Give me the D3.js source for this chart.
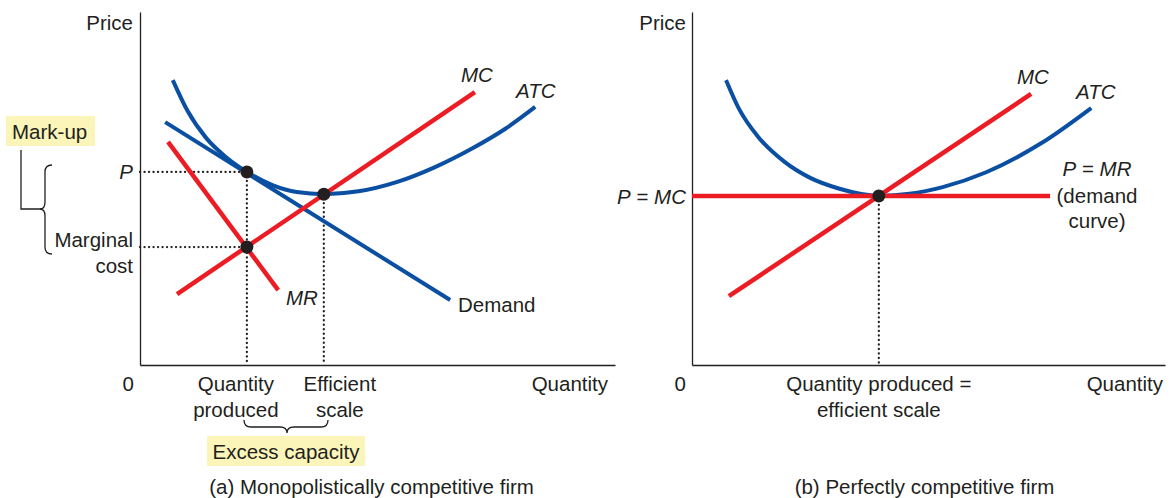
<!DOCTYPE html>
<html>
<head>
<meta charset="utf-8">
<script src="https://cdn.jsdelivr.net/npm/d3@7"></script>
<style>
  body { margin: 0; background: #fff; }
  svg text { font-family: "Liberation Sans", Arial, sans-serif; font-size: 20.5px; fill: #231f20; }
  .it { font-style: italic; }
</style>
</head>
<body>
<svg width="1175" height="498"></svg>
<script>
// panel (a): monopolistically competitive firm  [quantity, price]
var demandA = [[5.3, 68.8], [65.3, 18.4]];
var mrA = [[5.9, 63.2], [29.1, 21.2]];
var mcA = [[7.8, 20.1], [70.5, 77.3]];
var atcA = [[6.9, 80.7], [10, 72.0], [14, 64.2], [18, 59.0], [22.5, 54.7], [28, 50.9], [33, 49.0],
            [38.7, 48.4], [46, 49.2], [54, 51.8], [62, 56.0], [70, 61.4], [77, 67.0], [83.2, 73.1]];
var dotsA = [[22.5, 54.7], [22.5, 33.4], [38.7, 48.4]];

// panel (b): perfectly competitive firm
var atcB = [[7.2, 80.7], [10, 72.4], [14, 64.6], [19.5, 57.6], [25, 53.0], [31, 50.0], [39.5, 47.9],
            [46, 48.5], [53, 50.4], [62.2, 54.6], [73.8, 62.8], [84.4, 72.8]];
var mcB = [[7.8, 19.5], [71.7, 76.8]];
var priceB = [[0, 47.9], [75.7, 47.9]];
var dotsB = [[39.5, 47.9]];

var svg = d3.select('svg');
var blue = '#0b4fa3', red = '#ec1c24', ink = '#231f20';

var xA = d3.scaleLinear().domain([0, 100]).range([140, 615]);
var yA = d3.scaleLinear().domain([0, 100]).range([365, 12]);
var xB = d3.scaleLinear().domain([0, 100]).range([692, 1165]);
var yB = d3.scaleLinear().domain([0, 100]).range([365, 12]);

function drawAxes(x, y) {
    var g = svg.append('g');
    g.append('g').attr('transform', 'translate(0,' + y(0) + ')')
        .call(d3.axisBottom(x).tickValues([]).tickSizeOuter(0));
    g.append('g').attr('transform', 'translate(' + x(0) + ',0)')
        .call(d3.axisLeft(y).tickValues([]).tickSizeOuter(0));
    g.selectAll('.domain').attr('stroke', ink).attr('stroke-width', 1.3);
}

function curve(x, y, data, color, w, smooth) {
    var line = d3.line()
        .x(function(d){ return x(d[0]) })
        .y(function(d){ return y(d[1]) });
    if (smooth) line.curve(d3.curveMonotoneX);
    svg.append('path')
        .attr('d', line(data))
        .attr('fill', 'none')
        .attr('stroke', color)
        .attr('stroke-width', w);
}

function dotted(x1, y1, x2, y2) {
    svg.append('line')
        .attr('x1', x1).attr('y1', y1).attr('x2', x2).attr('y2', y2)
        .attr('stroke', ink)
        .attr('stroke-width', 2.3)
        .attr('stroke-linecap', 'round')
        .attr('stroke-dasharray', '0.1,4.4');
}

function label(x, y, txt, anchor, cls) {
    return svg.append('text')
        .attr('x', x).attr('y', y)
        .attr('text-anchor', anchor || 'start')
        .attr('class', cls || null)
        .text(txt);
}

// ---------- panel (a)
dotsA.slice(0, 2).forEach(function(d){
    dotted(xA(0), yA(d[1]), xA(d[0]), yA(d[1]));
});
dotsA.forEach(function(d, i){
    if (i != 1) dotted(xA(d[0]), yA(d[1]), xA(d[0]), yA(0));
});
drawAxes(xA, yA);

curve(xA, yA, demandA, blue, 4, false);
curve(xA, yA, atcA, blue, 4, true);
curve(xA, yA, mrA, red, 4.5, false);
curve(xA, yA, mcA, red, 4.5, false);

svg.selectAll('circle.a')
    .data(dotsA)
    .enter()
    .append('circle')
    .attr('cx', function(d){ return xA(d[0]) })
    .attr('cy', function(d){ return yA(d[1]) })
    .attr('r', 6.5)
    .attr('fill', ink);

label(133, 30, 'Price', 'end');
label(133, 179, 'P', 'end', 'it');
label(133, 247, 'Marginal', 'end');
label(133, 273, 'cost', 'end');
label(xA(0) - 6, 391, '0', 'end');
label(608, 391, 'Quantity', 'end');
label(461, 82, 'MC', 'start', 'it');
label(516, 98, 'ATC', 'start', 'it');
label(286, 305, 'MR', 'start', 'it');
label(458, 312, 'Demand', 'start');
label(xA(dotsA[0][0]) - 11, 391, 'Quantity', 'middle');
label(xA(dotsA[0][0]) - 11, 417, 'produced', 'middle');
label(xA(dotsA[2][0]) + 16, 391, 'Efficient', 'middle');
label(xA(dotsA[2][0]) + 16, 417, 'scale', 'middle');

// mark-up annotation
svg.append('rect').attr('x', 6).attr('y', 116).attr('width', 89).attr('height', 30).attr('fill', '#fcf5b9');
label(12, 139, 'Mark-up');
svg.append('path')
    .attr('d', 'M21,150 L21,209 L41,209')
    .attr('fill', 'none').attr('stroke', ink).attr('stroke-width', 1.3);
svg.append('path')
    .attr('d', 'M52,165 Q45,165 45,172 L45,202 Q45,209 40,209 Q45,209 45,216 L45,247 Q45,254 52,254')
    .attr('fill', 'none').attr('stroke', ink).attr('stroke-width', 1.3);

// excess capacity annotation
svg.append('path')
    .attr('d', 'M244,420 Q244,427 251,427 L280,427 Q287,427 287,433 Q287,427 294,427 L321,427 Q328,427 328,420')
    .attr('fill', 'none').attr('stroke', ink).attr('stroke-width', 1.3);
svg.append('rect').attr('x', 207).attr('y', 436).attr('width', 158).attr('height', 30).attr('fill', '#fcf5b9');
label(286, 459, 'Excess capacity', 'middle');

label((xA.range()[0] + xA.range()[1]) / 2 - 6, 494, '(a) Monopolistically competitive firm', 'middle');

// ---------- panel (b)
dotsB.forEach(function(d){
    dotted(xB(d[0]), yB(d[1]), xB(d[0]), yB(0));
});
drawAxes(xB, yB);

curve(xB, yB, atcB, blue, 4, true);
curve(xB, yB, mcB, red, 4.5, false);
curve(xB, yB, priceB, red, 4.5, false);

svg.selectAll('circle.b')
    .data(dotsB)
    .enter()
    .append('circle')
    .attr('cx', function(d){ return xB(d[0]) })
    .attr('cy', function(d){ return yB(d[1]) })
    .attr('r', 6.5)
    .attr('fill', ink);

label(686, 30, 'Price', 'end');
var pmc = label(686, 204, '', 'end');
pmc.append('tspan').attr('class', 'it').text('P');
pmc.append('tspan').text(' = ');
pmc.append('tspan').attr('class', 'it').text('MC');
label(xB(0) - 6, 391, '0', 'end');
label(1163, 391, 'Quantity', 'end');
label(1017, 84, 'MC', 'start', 'it');
label(1076, 99, 'ATC', 'start', 'it');
var pmr = label(1097, 176, '', 'middle');
pmr.append('tspan').attr('class', 'it').text('P');
pmr.append('tspan').text(' = ');
pmr.append('tspan').attr('class', 'it').text('MR');
label(1097, 203, '(demand', 'middle');
label(1097, 228, 'curve)', 'middle');
label(xB(dotsB[0][0]), 391, 'Quantity produced =', 'middle');
label(xB(dotsB[0][0]), 417, 'efficient scale', 'middle');

label((xB.range()[0] + xB.range()[1]) / 2 - 4, 494, '(b) Perfectly competitive firm', 'middle');
</script>
</body>
</html>
